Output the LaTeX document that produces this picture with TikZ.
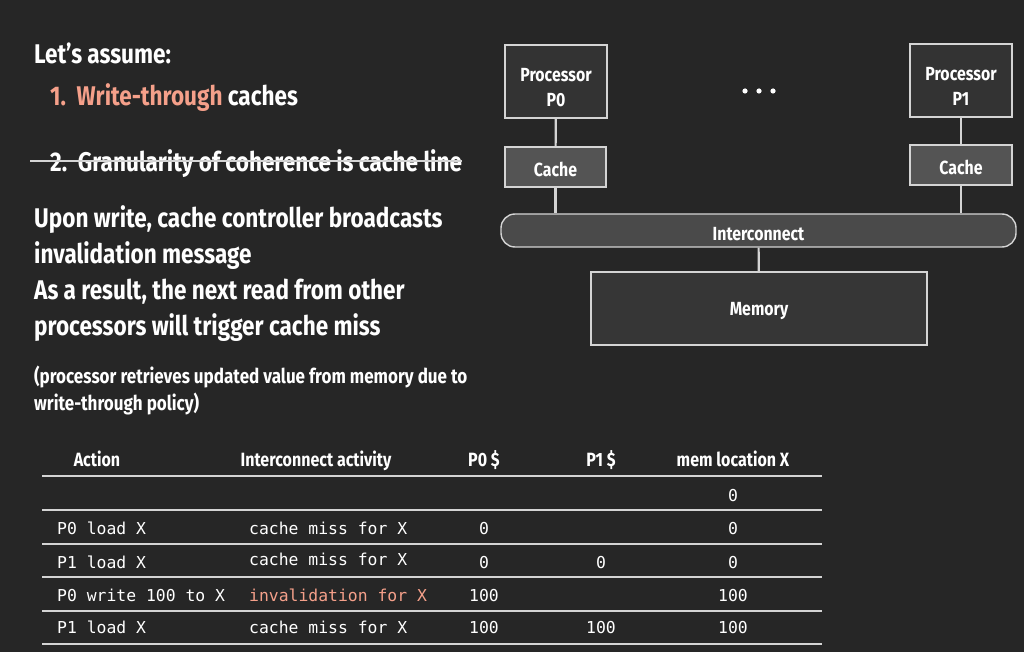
\documentclass[tikz,border=0pt]{standalone}
\usepackage{fontspec}
\setmainfont{Fira Sans}[FakeStretch=0.835]
\setmonofont{DejaVu Sans Mono}
\usetikzlibrary{positioning}

\definecolor{slidebg}{HTML}{262626}
\definecolor{procfill}{HTML}{333333}
\definecolor{cachefill}{HTML}{545454}
\definecolor{netfill}{HTML}{4A4A4A}
\definecolor{memfill}{HTML}{363636}
\definecolor{edge}{HTML}{D4D4D4}
\definecolor{salmon}{HTML}{F5A08A}

\begin{document}
\begin{tikzpicture}[x=1pt,y=-1pt,
      every node/.style={text=white,font=\bfseries},
      txt/.style={anchor=base west,inner sep=0pt,font=\bfseries\fontsize{27}{27}\selectfont},
      note/.style={anchor=base west,inner sep=0pt,font=\bfseries\fontsize{20.4}{20}\selectfont},
      unit/.style={draw=edge,line width=1.4pt,inner sep=0pt,align=center,
        font=\bfseries\fontsize{19}{25}\selectfont},
      wire/.style={draw=edge,line width=2.2pt},
      hdr/.style={anchor=base,inner sep=0pt,font=\bfseries\fontsize{19.2}{20}\selectfont},
      cell/.style={anchor=base west,inner sep=0pt,font=\ttfamily\fontsize{16.4}{16}\selectfont},
      num/.style={anchor=base,inner sep=0pt,font=\ttfamily\fontsize{16.4}{16}\selectfont},
      rule/.style={draw=edge,line width=1.6pt}]

    \fill[slidebg] (0,0) rectangle (1024,652);
    \useasboundingbox (0,0) rectangle (1024,652);

    % left text
    \node[txt] (assume) at (34,64) {Let’s assume:};
    \node[txt] (one) at (50,106) {\textcolor{salmon}{1.\ \ Write-through} caches};
    \node[txt] (two) at (50,172) {2.\ \ Granularity of coherence is cache line};
    \draw[edge,line width=1.4pt] (30,161) -- (two.east |- 0,161);
    \node[txt] (upon1) at (34,227) {Upon write, cache controller broadcasts};
    \node[txt] (upon2) at (34,263) {invalidation message};
    \node[txt] (res1) at (34,299) {As a result, the next read from other};
    \node[txt] (res2) at (34,335) {processors will trigger cache miss};
    \node[note] (why1) at (34,383) {(processor retrieves updated value from memory due to};
    \node[note] (why2) at (34,410) {write-through policy)};

    % machine
    \node[unit,fill=procfill,minimum width=102,minimum height=73,text height=51] (p0) at (556,81.5) {Processor\\P0};
    \node[unit,fill=cachefill,minimum width=101,minimum height=40,text height=20] (c0) at (555.5,167) {Cache};
    \node[unit,fill=procfill,minimum width=102,minimum height=73,text height=51] (p1) at (961,80.5) {Processor\\P1};
    \node[unit,fill=cachefill,minimum width=102,minimum height=40,text height=20] (c1) at (961,165) {Cache};
    \node[unit,fill=netfill,rounded corners=14pt,minimum width=515,minimum height=33,text height=20] (net) at (758.5,230.5) {Interconnect};
    \node[unit,fill=memfill,minimum width=336,minimum height=73,text height=18] (mem) at (759,308.5) {Memory};
    \fill[white] (745,91) circle (2.6) (759,91) circle (2.6) (773,91) circle (2.6);

    \draw[wire] (p0) -- (c0);
    \draw[wire] (c0.south) -- (c0.south |- net.north);
    \draw[wire] (p1) -- (c1);
    \draw[wire] (c1.south) -- (c1.south |- net.north);
    \draw[wire] (net) -- (mem);

    % table
    \node[hdr] (hact) at (97,466) {Action};
    \node[hdr] (hnet) at (316,466) {Interconnect activity};
    \node[hdr] (hp0) at (484,466) {P0 \$};
    \node[hdr] (hp1) at (601,466) {P1 \$};
    \node[hdr] (hmem) at (733,466) {mem location X};
    \foreach \y in {476,510,544,577,611,644}
      \draw[rule] (42,\y) -- (822,\y);

    \node[num] (m0) at (733,501) {0};

    \node[cell] (a1) at (57,534) {P0 load X};
    \node[cell] (n1) at (249,534) {cache miss for X};
    \node[num] (x1) at (484,534) {0};
    \node[num] (m1) at (733,534) {0};

    \node[cell] (a2) at (57,568) {P1 load X};
    \node[cell] (n2) at (249,565) {cache miss for X};
    \node[num] (x2) at (484,568) {0};
    \node[num] (y2) at (601,568) {0};
    \node[num] (m2) at (733,568) {0};

    \node[cell] (a3) at (57,601) {P0 write 100 to X};
    \node[cell,text=salmon] (n3) at (249,601) {invalidation for X};
    \node[num] (x3) at (484,601) {100};
    \node[num] (m3) at (733,601) {100};

    \node[cell] (a4) at (57,633) {P1 load X};
    \node[cell] (n4) at (249,633) {cache miss for X};
    \node[num] (x4) at (484,633) {100};
    \node[num] (y4) at (601,633) {100};
    \node[num] (m4) at (733,633) {100};
  \end{tikzpicture}
\end{document}
